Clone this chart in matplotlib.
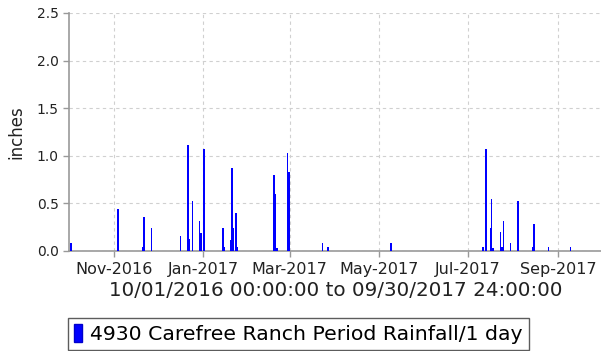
import numpy as np
import pandas as pd
import matplotlib
matplotlib.use("Agg")
import matplotlib.pyplot as plt
import matplotlib.dates as mdates
import matplotlib.patches as mpatches

# Daily rainfall totals (inches), water year Oct 2016 - Sep 2017
rain_dates = [
    "2016-10-02", "2016-11-03", "2016-11-20", "2016-11-21", "2016-11-26",
    "2016-12-16", "2016-12-21", "2016-12-22", "2016-12-24", "2016-12-29",
    "2016-12-30", "2017-01-01", "2017-01-14", "2017-01-15", "2017-01-19",
    "2017-01-20", "2017-01-21", "2017-01-23", "2017-01-24", "2017-02-18",
    "2017-02-19", "2017-02-20", "2017-02-27", "2017-02-28", "2017-03-23",
    "2017-03-27", "2017-05-09", "2017-07-11", "2017-07-13", "2017-07-16",
    "2017-07-17", "2017-07-18", "2017-07-23", "2017-07-24", "2017-07-25",
    "2017-07-30", "2017-08-04", "2017-08-14", "2017-08-15", "2017-08-25",
    "2017-09-09",
]
rain_inches = [
    0.08, 0.44, 0.04, 0.36, 0.24,
    0.16, 1.11, 0.13, 0.52, 0.32,
    0.19, 1.07, 0.24, 0.04, 0.12,
    0.87, 0.24, 0.40, 0.04, 0.80,
    0.60, 0.03, 1.03, 0.83, 0.08,
    0.04, 0.08, 0.04, 1.07, 0.24,
    0.55, 0.03, 0.20, 0.04, 0.32,
    0.08, 0.52, 0.04, 0.28, 0.04,
    0.04,
]
period_start = "2016-10-01"
period_end = "2017-10-01"
tick_months = ["2016-11-01", "2017-01-01", "2017-03-01", "2017-05-01",
               "2017-07-01", "2017-09-01"]
series_name = "4930 Carefree Ranch Period Rainfall/1 day"

dates = mdates.date2num(pd.to_datetime(rain_dates))

fig = plt.figure(figsize=(6.01, 3.51), dpi=100)
ax = fig.add_axes([69 / 601, 1 - 251 / 351, 533 / 601, 238 / 351])

ax.bar(dates, rain_inches, width=1.0, align="edge", color="#0000ff",
       edgecolor="none", zorder=3)

ax.set_xlim(mdates.date2num(pd.Timestamp(period_start)),
            mdates.date2num(pd.Timestamp(period_end)))
ax.set_ylim(0, 2.5)
ax.set_yticks(np.arange(0, 2.51, 0.5))
ax.yaxis.set_major_formatter(matplotlib.ticker.FormatStrFormatter("%.1f"))
ax.set_xticks(mdates.date2num(pd.to_datetime(tick_months)))
ax.xaxis.set_major_formatter(mdates.DateFormatter("%b-%Y"))

ax.grid(True, color="#d0d0d0", linestyle=(0, (3, 3)), linewidth=0.8, zorder=0)
for side in ["top", "right"]:
    ax.spines[side].set_visible(False)
for side in ["left", "bottom"]:
    ax.spines[side].set_color("#999999")
    ax.spines[side].set_linewidth(1.2)
ax.tick_params(axis="both", colors="#999999", labelcolor="#222222",
               length=4, width=1)
ax.tick_params(axis="y", labelsize=10)
ax.tick_params(axis="x", labelsize=11.5, pad=4)

ax.set_ylabel("inches", fontsize=12, color="#222222", labelpad=8)
ax.set_xlabel("10/01/2016 00:00:00 to 09/30/2017 24:00:00", fontsize=14.3,
              color="#222222", labelpad=3)

handle = mpatches.Patch(facecolor="#0000ff", edgecolor="#0000cc")
leg = fig.legend(handles=[handle], labels=[series_name], loc="lower left",
                 bbox_to_anchor=(68 / 601, 1 / 351), fontsize=14.7,
                 handlelength=0.4, handleheight=1.0, handletextpad=0.4,
                 borderpad=0.3, borderaxespad=0, fancybox=False,
                 frameon=True)
leg.get_frame().set_edgecolor("#333333")
leg.get_frame().set_linewidth(1.0)

fig.savefig("out.png", dpi=100)
